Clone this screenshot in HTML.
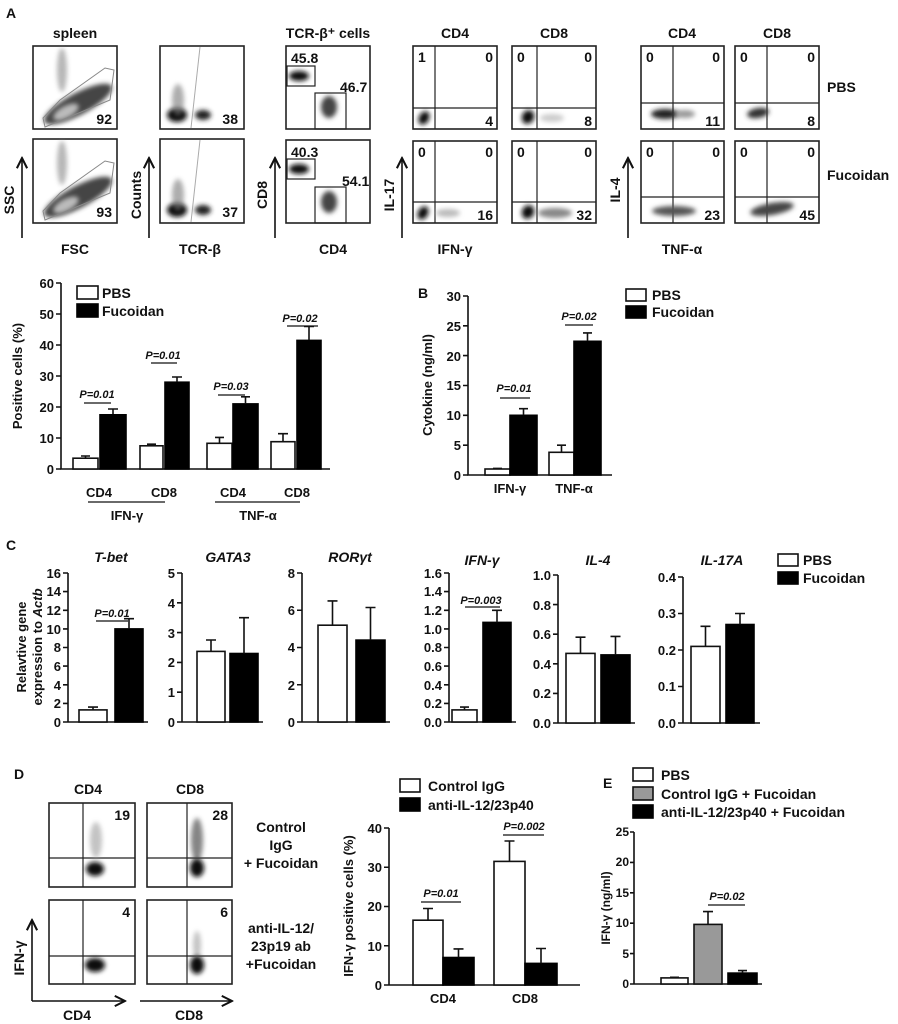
<!DOCTYPE html>
<html><head><meta charset="utf-8"><style>
html,body{margin:0;padding:0;background:#fff}
svg{display:block}
text{font-family:"Liberation Sans",Arial,sans-serif;font-weight:bold;fill:#111}
.t{font-size:13px}
.s{font-size:11px}
.l{font-size:14px}
.p{font-size:11px;font-style:italic}
.ax{stroke:#111;stroke-width:1.6;fill:none}
.bx{stroke:#222;stroke-width:1.6;fill:#fff}
.q{stroke:#222;stroke-width:1.2}
.w{fill:#fff;stroke:#111;stroke-width:1.6}
.k{fill:#000;stroke:#000;stroke-width:1.6}
.g{fill:#999;stroke:#111;stroke-width:1.6}
.e{stroke:#111;stroke-width:1.6;fill:none}
.d{filter:url(#bl)}
</style></head><body>
<svg width="898" height="1024" viewBox="0 0 898 1024" xmlns="http://www.w3.org/2000/svg">
<defs>
<filter id="bl" x="-50%" y="-50%" width="200%" height="200%"><feGaussianBlur stdDeviation="2.5"/></filter>
<marker id="ar" viewBox="0 0 10 10" refX="9" refY="5" markerWidth="8" markerHeight="8" orient="auto"><path d="M1,1 L9,5 L1,9" fill="none" stroke="#111" stroke-width="1.6"/></marker>
</defs>

<text x="6" y="18" class="l">A</text>
<text x="75" y="38" class="l" text-anchor="middle">spleen</text>
<text x="328" y="38" class="l" text-anchor="middle">TCR-β⁺ cells</text>
<text x="455" y="38" class="l" text-anchor="middle">CD4</text>
<text x="554" y="38" class="l" text-anchor="middle">CD8</text>
<text x="682" y="38" class="l" text-anchor="middle">CD4</text>
<text x="777" y="38" class="l" text-anchor="middle">CD8</text>
<text x="827" y="92" class="l">PBS</text>
<text x="827" y="180" class="l">Fucoidan</text>

<g>
<rect x="33" y="46" width="84" height="83" class="bx"/>
<ellipse cx="62" cy="70" rx="5" ry="22" fill="#999" class="d" opacity=".7"/>
<ellipse cx="78" cy="104" rx="38" ry="11" fill="#444" class="d" transform="rotate(-28 78 104)"/>
<ellipse cx="66" cy="112" rx="14" ry="6" fill="#bbb" class="d" transform="rotate(-28 66 112)"/>
<polygon points="45,127 110,100 114,70 105,68 60,100 43,118" fill="none" stroke="#888" stroke-width="1"/>
<text x="112" y="124" class="l" text-anchor="end">92</text>
<rect x="33" y="139" width="84" height="84" class="bx"/>
<ellipse cx="62" cy="163" rx="5" ry="22" fill="#999" class="d" opacity=".7"/>
<ellipse cx="78" cy="197" rx="38" ry="11" fill="#444" class="d" transform="rotate(-28 78 197)"/>
<ellipse cx="66" cy="205" rx="14" ry="6" fill="#bbb" class="d" transform="rotate(-28 66 205)"/>
<polygon points="45,220 110,193 114,163 105,161 60,193 43,211" fill="none" stroke="#888" stroke-width="1"/>
<text x="112" y="217" class="l" text-anchor="end">93</text>
</g>
<g>
<rect x="160" y="46" width="84" height="83" class="bx"/>
<ellipse cx="177" cy="115" rx="10" ry="7" fill="#111" class="d"/>
<ellipse cx="178" cy="100" rx="6" ry="16" fill="#777" class="d" opacity=".6"/>
<ellipse cx="203" cy="115" rx="8" ry="5" fill="#222" class="d"/>
<line x1="191" y1="128" x2="200" y2="47" stroke="#aaa" stroke-width="1"/>
<text x="238" y="124" class="l" text-anchor="end">38</text>
<rect x="160" y="139" width="84" height="84" class="bx"/>
<ellipse cx="177" cy="210" rx="10" ry="7" fill="#111" class="d"/>
<ellipse cx="178" cy="195" rx="6" ry="16" fill="#777" class="d" opacity=".6"/>
<ellipse cx="203" cy="210" rx="8" ry="5" fill="#222" class="d"/>
<line x1="191" y1="222" x2="200" y2="140" stroke="#aaa" stroke-width="1"/>
<text x="238" y="217" class="l" text-anchor="end">37</text>
</g>
<g>
<rect x="286" y="46" width="84" height="83" class="bx"/>
<rect x="287" y="66" width="28" height="20" fill="none" stroke="#222" stroke-width="1.2"/>
<rect x="315" y="93" width="31" height="36" fill="none" stroke="#222" stroke-width="1.2"/>
<ellipse cx="299" cy="76" rx="10" ry="5" fill="#111" class="d"/>
<ellipse cx="329" cy="107" rx="8" ry="11" fill="#444" class="d"/>
<text x="291" y="63" class="l">45.8</text>
<text x="340" y="92" class="l">46.7</text>
<rect x="286" y="140" width="84" height="83" class="bx"/>
<rect x="287" y="159" width="28" height="20" fill="none" stroke="#222" stroke-width="1.2"/>
<rect x="315" y="187" width="31" height="36" fill="none" stroke="#222" stroke-width="1.2"/>
<ellipse cx="299" cy="169" rx="10" ry="5" fill="#111" class="d"/>
<ellipse cx="329" cy="202" rx="8" ry="11" fill="#444" class="d"/>
<text x="291" y="157" class="l">40.3</text>
<text x="342" y="186" class="l">54.1</text>
</g>
<g>
<rect x="413" y="46" width="84" height="83" class="bx"/>
<line x1="435" y1="46" x2="435" y2="129" class="q"/><line x1="413" y1="108" x2="497" y2="108" class="q"/>
<ellipse cx="424" cy="118" rx="5" ry="7" fill="#111" class="d" transform="rotate(30 424 118)"/>
<text x="418" y="62" class="l">1</text><text x="493" y="62" class="l" text-anchor="end">0</text><text x="493" y="126" class="l" text-anchor="end">4</text>
<rect x="413" y="141" width="84" height="82" class="bx"/>
<line x1="435" y1="141" x2="435" y2="223" class="q"/><line x1="413" y1="202" x2="497" y2="202" class="q"/>
<ellipse cx="423" cy="213" rx="5" ry="7" fill="#111" class="d" transform="rotate(30 423 213)"/>
<ellipse cx="448" cy="213" rx="12" ry="4" fill="#bbb" class="d"/>
<text x="418" y="157" class="l">0</text><text x="493" y="157" class="l" text-anchor="end">0</text><text x="493" y="220" class="l" text-anchor="end">16</text>
<rect x="512" y="46" width="84" height="83" class="bx"/>
<line x1="537" y1="46" x2="537" y2="129" class="q"/><line x1="512" y1="108" x2="596" y2="108" class="q"/>
<ellipse cx="528" cy="117" rx="6" ry="7" fill="#111" class="d" transform="rotate(30 528 117)"/>
<ellipse cx="552" cy="118" rx="12" ry="4" fill="#ccc" class="d"/>
<text x="517" y="62" class="l">0</text><text x="592" y="62" class="l" text-anchor="end">0</text><text x="592" y="126" class="l" text-anchor="end">8</text>
<rect x="512" y="141" width="84" height="82" class="bx"/>
<line x1="537" y1="141" x2="537" y2="223" class="q"/><line x1="512" y1="202" x2="596" y2="202" class="q"/>
<ellipse cx="528" cy="212" rx="6" ry="7" fill="#111" class="d" transform="rotate(30 528 212)"/>
<ellipse cx="555" cy="213" rx="17" ry="5" fill="#888" class="d"/>
<text x="517" y="157" class="l">0</text><text x="592" y="157" class="l" text-anchor="end">0</text><text x="592" y="220" class="l" text-anchor="end">32</text>
</g>
<g>
<rect x="641" y="46" width="83" height="83" class="bx"/>
<line x1="673" y1="46" x2="673" y2="129" class="q"/><line x1="641" y1="103" x2="724" y2="103" class="q"/>
<ellipse cx="665" cy="114" rx="14" ry="5" fill="#222" class="d"/>
<ellipse cx="685" cy="114" rx="10" ry="4" fill="#999" class="d"/>
<text x="646" y="62" class="l">0</text><text x="720" y="62" class="l" text-anchor="end">0</text><text x="720" y="126" class="l" text-anchor="end">11</text>
<rect x="641" y="141" width="83" height="82" class="bx"/>
<line x1="673" y1="141" x2="673" y2="223" class="q"/><line x1="641" y1="197" x2="724" y2="197" class="q"/>
<ellipse cx="674" cy="211" rx="22" ry="5" fill="#555" class="d"/>
<text x="646" y="157" class="l">0</text><text x="720" y="157" class="l" text-anchor="end">0</text><text x="720" y="220" class="l" text-anchor="end">23</text>
<rect x="735" y="46" width="84" height="83" class="bx"/>
<line x1="767" y1="46" x2="767" y2="129" class="q"/><line x1="735" y1="103" x2="819" y2="103" class="q"/>
<ellipse cx="758" cy="113" rx="11" ry="5" fill="#333" class="d" transform="rotate(-10 758 113)"/>
<text x="740" y="62" class="l">0</text><text x="815" y="62" class="l" text-anchor="end">0</text><text x="815" y="126" class="l" text-anchor="end">8</text>
<rect x="735" y="141" width="84" height="82" class="bx"/>
<line x1="767" y1="141" x2="767" y2="223" class="q"/><line x1="735" y1="197" x2="819" y2="197" class="q"/>
<ellipse cx="772" cy="209" rx="22" ry="6" fill="#444" class="d" transform="rotate(-10 772 209)"/>
<text x="740" y="157" class="l">0</text><text x="815" y="157" class="l" text-anchor="end">0</text><text x="815" y="220" class="l" text-anchor="end">45</text>
</g>
<g class="ax">
<line x1="22" y1="238" x2="22" y2="158" marker-end="url(#ar)"/>
<line x1="149" y1="238" x2="149" y2="158" marker-end="url(#ar)"/>
<line x1="275" y1="238" x2="275" y2="158" marker-end="url(#ar)"/>
<line x1="402" y1="238" x2="402" y2="158" marker-end="url(#ar)"/>
<line x1="628" y1="238" x2="628" y2="158" marker-end="url(#ar)"/>
</g>
<text transform="translate(14,200) rotate(-90)" class="l" text-anchor="middle">SSC</text>
<text transform="translate(141,195) rotate(-90)" class="l" text-anchor="middle">Counts</text>
<text transform="translate(267,195) rotate(-90)" class="l" text-anchor="middle">CD8</text>
<text transform="translate(394,195) rotate(-90)" class="l" text-anchor="middle">IL-17</text>
<text transform="translate(620,190) rotate(-90)" class="l" text-anchor="middle">IL-4</text>
<text x="75" y="254" class="l" text-anchor="middle">FSC</text>
<text x="200" y="254" class="l" text-anchor="middle">TCR-β</text>
<text x="333" y="254" class="l" text-anchor="middle">CD4</text>
<text x="455" y="254" class="l" text-anchor="middle">IFN-γ</text>
<text x="682" y="254" class="l" text-anchor="middle">TNF-α</text>

<g class="ax"><path d="M61,283 V469 H330"/>
<path d="M56,283H61M56,314H61M56,345H61M56,376H61M56,407H61M56,438H61M56,469H61"/></g>
<g class="t" text-anchor="end">
<text x="54" y="288">60</text><text x="54" y="319">50</text><text x="54" y="350">40</text><text x="54" y="381">30</text><text x="54" y="412">20</text><text x="54" y="443">10</text><text x="54" y="474">0</text></g>
<text transform="translate(22,376) rotate(-90)" class="t" text-anchor="middle">Positive cells (%)</text>
<rect x="77" y="286" width="21" height="13" class="w"/><text x="102" y="298" class="l">PBS</text>
<rect x="77" y="304" width="21" height="13" class="k"/><text x="102" y="316" class="l">Fucoidan</text>
<rect x="73" y="458.2" width="25" height="10.8" class="w"/><path d="M85.5,458V456M81,456H90" class="e"/>
<rect x="100" y="414.8" width="26" height="54.2" class="k"/><path d="M113,414V409M108,409H118" class="e"/>
<rect x="140" y="445.8" width="23" height="23.2" class="w"/><path d="M151.5,445.8V444.2M147,444.2H156" class="e"/>
<rect x="165" y="382.2" width="24" height="86.8" class="k"/><path d="M177,382V377M172,377H182" class="e"/>
<rect x="207" y="443.3" width="25" height="25.7" class="w"/><path d="M219.5,443.3V437.4M215,437.4H224" class="e"/>
<rect x="233" y="403.9" width="25" height="65.1" class="k"/><path d="M245.5,404V396.8M241,396.8H250" class="e"/>
<rect x="271" y="441.7" width="24" height="27.3" class="w"/><path d="M283,441.7V433.7M278,433.7H288" class="e"/>
<rect x="297" y="340.4" width="24" height="128.6" class="k"/><path d="M309,340V326.4M304,326.4H314" class="e"/>
<g class="p" text-anchor="middle"><text x="97" y="398">P=0.01</text><text x="163" y="359">P=0.01</text><text x="231" y="390">P=0.03</text><text x="300" y="322">P=0.02</text></g>
<g class="e" style="stroke-width:1.2"><path d="M84,403H111M151,363H177M218,395H245M287,326H318M88,502H165M215,502H300"/></g>
<g class="t" text-anchor="middle"><text x="99" y="497">CD4</text><text x="164" y="497">CD8</text><text x="233" y="497">CD4</text><text x="297" y="497">CD8</text>
<text x="127" y="520">IFN-γ</text><text x="258" y="520">TNF-α</text></g>

<text x="418" y="298" class="l">B</text>
<g class="ax"><path d="M468,296 V475 H612"/>
<path d="M463,296H468M463,325.8H468M463,355.6H468M463,385.5H468M463,415.3H468M463,445.2H468M463,475H468"/></g>
<g class="t" text-anchor="end"><text x="461" y="301">30</text><text x="461" y="331">25</text><text x="461" y="361">20</text><text x="461" y="390">15</text><text x="461" y="420">10</text><text x="461" y="450">5</text><text x="461" y="480">0</text></g>
<text transform="translate(432,385) rotate(-90)" class="t" text-anchor="middle">Cytokine (ng/ml)</text>
<rect x="485" y="469" width="25" height="6" class="w"/><path d="M497.5,469V468.4M493,468.4H502" class="e"/>
<rect x="510" y="415.3" width="27" height="59.7" class="k"/><path d="M523.5,415V408.7M519,408.7H528" class="e"/>
<rect x="549" y="452.3" width="25" height="22.7" class="w"/><path d="M561.5,452.3V445.2M557,445.2H566" class="e"/>
<rect x="574" y="341.3" width="27" height="133.7" class="k"/><path d="M587.5,341V332.9M583,332.9H592" class="e"/>
<g class="p" text-anchor="middle"><text x="514" y="392">P=0.01</text><text x="579" y="320">P=0.02</text></g>
<path d="M500,398H530M565,325H593" class="e" style="stroke-width:1.2"/>
<g class="t" text-anchor="middle"><text x="510" y="493">IFN-γ</text><text x="574" y="493">TNF-α</text></g>
<rect x="626" y="289" width="20" height="12" class="w"/><text x="652" y="300" class="l">PBS</text>
<rect x="626" y="306" width="20" height="12" class="k"/><text x="652" y="317" class="l">Fucoidan</text>

<text x="6" y="550" class="l">C</text>
<g class="l" text-anchor="middle">
<text x="111" y="562" font-style="italic">T-bet</text><text x="228" y="562" font-style="italic">GATA3</text><text x="350" y="562" font-style="italic">RORγt</text>
<text x="482" y="565" font-style="italic">IFN-γ</text><text x="598" y="565" font-style="italic">IL-4</text><text x="722" y="565" font-style="italic">IL-17A</text></g>
<text transform="translate(26,647) rotate(-90)" class="t" text-anchor="middle">Relavtive gene</text>
<text transform="translate(42,647) rotate(-90)" class="t" text-anchor="middle">expression to <tspan font-style="italic">Actb</tspan></text>
<g class="ax"><path d="M68,573V722H148M63,573H68M63,591.6H68M63,610.3H68M63,628.9H68M63,647.5H68M63,666.1H68M63,684.8H68M63,703.4H68M63,722H68"/></g>
<g class="t" text-anchor="end"><text x="61" y="578">16</text><text x="61" y="596">14</text><text x="61" y="615">12</text><text x="61" y="634">10</text><text x="61" y="652">8</text><text x="61" y="671">6</text><text x="61" y="690">4</text><text x="61" y="708">2</text><text x="61" y="727">0</text></g>
<rect x="79" y="709.9" width="28" height="12.1" class="w"/><path d="M93,709.9V707.1M88,707.1H98" class="e"/>
<rect x="115" y="628.9" width="28" height="93.1" class="k"/><path d="M129,629V618.7M124,618.7H134" class="e"/>
<text x="112" y="617" class="p" text-anchor="middle">P=0.01</text><path d="M96,621H128" class="e" style="stroke-width:1.2"/>
<g class="ax"><path d="M182,573V722H263M177,573H182M177,602.8H182M177,632.6H182M177,662.4H182M177,692.2H182M177,722H182"/></g>
<g class="t" text-anchor="end"><text x="175" y="578">5</text><text x="175" y="608">4</text><text x="175" y="638">3</text><text x="175" y="667">2</text><text x="175" y="697">1</text><text x="175" y="727">0</text></g>
<rect x="197" y="651.4" width="28" height="70.6" class="w"/><path d="M211,651.4V640M206,640H216" class="e"/>
<rect x="230" y="653.5" width="28" height="68.5" class="k"/><path d="M244,653.5V617.7M239,617.7H249" class="e"/>
<g class="ax"><path d="M302,573V722H390M297,573H302M297,610.25H302M297,647.5H302M297,684.75H302M297,722H302"/></g>
<g class="t" text-anchor="end"><text x="295" y="578">8</text><text x="295" y="615">6</text><text x="295" y="652">4</text><text x="295" y="690">2</text><text x="295" y="727">0</text></g>
<rect x="318" y="625.2" width="29" height="96.8" class="w"/><path d="M332.5,625.2V600.9M327.5,600.9H337.5" class="e"/>
<rect x="356" y="640.1" width="29" height="81.9" class="k"/><path d="M370.5,640.1V607.5M365.5,607.5H375.5" class="e"/>
<g class="ax"><path d="M449,573V722H516M444,573H449M444,591.6H449M444,610.3H449M444,628.9H449M444,647.5H449M444,666.1H449M444,684.8H449M444,703.4H449M444,722H449"/></g>
<g class="t" text-anchor="end"><text x="442" y="578">1.6</text><text x="442" y="596">1.4</text><text x="442" y="615">1.2</text><text x="442" y="634">1.0</text><text x="442" y="652">0.8</text><text x="442" y="671">0.6</text><text x="442" y="690">0.4</text><text x="442" y="708">0.2</text><text x="442" y="727">0.0</text></g>
<rect x="452" y="709.9" width="25" height="12.1" class="w"/><path d="M464.5,709.9V707.1M460,707.1H469" class="e"/>
<rect x="483" y="622.4" width="28" height="99.6" class="k"/><path d="M497,622.4V610.3M492,610.3H502" class="e"/>
<text x="481" y="604" class="p" text-anchor="middle">P=0.003</text><path d="M465,607H500" class="e" style="stroke-width:1.2"/>
<g class="ax"><path d="M558,575V723H635M553,575H558M553,604.6H558M553,634.2H558M553,663.8H558M553,693.4H558M553,723H558"/></g>
<g class="t" text-anchor="end"><text x="551" y="580">1.0</text><text x="551" y="610">0.8</text><text x="551" y="639">0.6</text><text x="551" y="669">0.4</text><text x="551" y="698">0.2</text><text x="551" y="728">0.0</text></g>
<rect x="566" y="653.4" width="29" height="69.6" class="w"/><path d="M580.5,653.4V637.2M575.5,637.2H585.5" class="e"/>
<rect x="601" y="654.9" width="29" height="68.1" class="k"/><path d="M615.5,654.9V636.4M610.5,636.4H620.5" class="e"/>
<g class="ax"><path d="M683,577V723H760M678,577H683M678,613.5H683M678,650H683M678,686.5H683M678,723H683"/></g>
<g class="t" text-anchor="end"><text x="676" y="582">0.4</text><text x="676" y="618">0.3</text><text x="676" y="655">0.2</text><text x="676" y="691">0.1</text><text x="676" y="728">0.0</text></g>
<rect x="691" y="646.4" width="29" height="76.6" class="w"/><path d="M705.5,646.4V626.3M700.5,626.3H710.5" class="e"/>
<rect x="726" y="624.5" width="28" height="98.5" class="k"/><path d="M740,624.5V613.5M735,613.5H745" class="e"/>
<rect x="778" y="554" width="20" height="12" class="w"/><text x="803" y="565" class="l">PBS</text>
<rect x="778" y="572" width="20" height="12" class="k"/><text x="803" y="583" class="l">Fucoidan</text>

<text x="14" y="779" class="l">D</text>
<text x="88" y="794" class="l" text-anchor="middle">CD4</text>
<text x="190" y="794" class="l" text-anchor="middle">CD8</text>
<g>
<rect x="49" y="803" width="86" height="84" class="bx"/>
<line x1="83" y1="803" x2="83" y2="887" class="q"/><line x1="49" y1="858" x2="135" y2="858" class="q"/>
<ellipse cx="96" cy="840" rx="6" ry="18" fill="#aaa" class="d" opacity=".7"/>
<ellipse cx="95" cy="869" rx="9" ry="7" fill="#111" class="d"/>
<text x="130" y="820" class="l" text-anchor="end">19</text>
<rect x="147" y="803" width="85" height="84" class="bx"/>
<line x1="187" y1="803" x2="187" y2="887" class="q"/><line x1="147" y1="858" x2="232" y2="858" class="q"/>
<ellipse cx="197" cy="840" rx="6" ry="22" fill="#666" class="d" opacity=".8"/>
<ellipse cx="197" cy="868" rx="7" ry="9" fill="#111" class="d"/>
<text x="228" y="820" class="l" text-anchor="end">28</text>
<rect x="49" y="900" width="86" height="84" class="bx"/>
<line x1="83" y1="900" x2="83" y2="984" class="q"/><line x1="49" y1="956" x2="135" y2="956" class="q"/>
<ellipse cx="95" cy="965" rx="10" ry="7" fill="#111" class="d"/>
<text x="130" y="917" class="l" text-anchor="end">4</text>
<rect x="147" y="900" width="85" height="84" class="bx"/>
<line x1="187" y1="900" x2="187" y2="984" class="q"/><line x1="147" y1="956" x2="232" y2="956" class="q"/>
<ellipse cx="197" cy="945" rx="4" ry="14" fill="#aaa" class="d" opacity=".7"/>
<ellipse cx="197" cy="965" rx="7" ry="9" fill="#111" class="d"/>
<text x="228" y="917" class="l" text-anchor="end">6</text>
</g>
<g class="l" text-anchor="middle"><text x="281" y="832">Control</text><text x="281" y="850">IgG</text><text x="281" y="868">+ Fucoidan</text>
<text x="281" y="933">anti-IL-12/</text><text x="281" y="951">23p19 ab</text><text x="281" y="969">+Fucoidan</text></g>
<g class="ax"><path d="M32,1001V920" marker-end="url(#ar)"/><path d="M32,1001H125" marker-end="url(#ar)"/><path d="M140,1001H232" marker-end="url(#ar)"/></g>
<text transform="translate(24,958) rotate(-90)" class="l" text-anchor="middle">IFN-γ</text>
<text x="77" y="1020" class="l" text-anchor="middle">CD4</text>
<text x="189" y="1020" class="l" text-anchor="middle">CD8</text>

<rect x="400" y="779" width="20" height="13" class="w"/><text x="428" y="791" class="l">Control IgG</text>
<rect x="400" y="798" width="20" height="13" class="k"/><text x="428" y="810" class="l">anti-IL-12/23p40</text>
<g class="ax"><path d="M389,828V985H580M384,828H389M384,867.25H389M384,906.5H389M384,945.75H389M384,985H389"/></g>
<g class="t" text-anchor="end"><text x="382" y="833">40</text><text x="382" y="872">30</text><text x="382" y="911">20</text><text x="382" y="951">10</text><text x="382" y="990">0</text></g>
<text transform="translate(353,906) rotate(-90)" class="t" text-anchor="middle">IFN-γ positive cells (%)</text>
<rect x="413" y="920.2" width="30" height="64.8" class="w"/><path d="M428,920.2V908.5M423,908.5H433" class="e"/>
<rect x="443" y="957.5" width="31" height="27.5" class="k"/><path d="M458.5,957.5V948.9M453.5,948.9H463.5" class="e"/>
<rect x="494" y="861.4" width="31" height="123.6" class="w"/><path d="M509.5,861.4V841M504.5,841H514.5" class="e"/>
<rect x="525" y="963.4" width="32" height="21.6" class="k"/><path d="M541,963.4V948.5M536,948.5H546" class="e"/>
<g class="p" text-anchor="middle"><text x="441" y="897">P=0.01</text><text x="524" y="830">P=0.002</text></g>
<path d="M421,902H461M503,835H544" class="e" style="stroke-width:1.2"/>
<g class="t" text-anchor="middle"><text x="443" y="1003">CD4</text><text x="525" y="1003">CD8</text></g>

<text x="603" y="788" class="l">E</text>
<rect x="633" y="768" width="20" height="13" class="w"/><text x="661" y="780" class="l">PBS</text>
<rect x="633" y="787" width="20" height="13" class="g"/><text x="661" y="799" class="l">Control IgG + Fucoidan</text>
<rect x="633" y="805" width="20" height="13" class="k"/><text x="661" y="817" class="l">anti-IL-12/23p40 + Fucoidan</text>
<g class="ax"><path d="M634,832V984H762M630,832H634M630,862.4H634M630,892.8H634M630,923.2H634M630,953.6H634M630,984H634"/></g>
<g style="font-size:12px" text-anchor="end"><text x="629" y="836">25</text><text x="629" y="866">20</text><text x="629" y="897">15</text><text x="629" y="927">10</text><text x="629" y="958">5</text><text x="629" y="988">0</text></g>
<text transform="translate(610,908) rotate(-90)" style="font-size:12px" text-anchor="middle">IFN-γ (ng/ml)</text>
<rect x="661" y="977.9" width="27" height="6.1" class="w"/><path d="M674.5,977.9V977.3M670,977.3H679" class="e"/>
<rect x="694" y="924.4" width="28" height="59.6" class="g"/><path d="M708,924.4V911.6M703,911.6H713" class="e"/>
<rect x="728" y="973.1" width="29" height="10.9" class="k"/><path d="M742.5,973.1V970.6M738,970.6H747" class="e"/>
<text x="727" y="900" class="p" text-anchor="middle">P=0.02</text>
<path d="M708,905H745" class="e" style="stroke-width:1.2"/>
</svg>
</body></html>
